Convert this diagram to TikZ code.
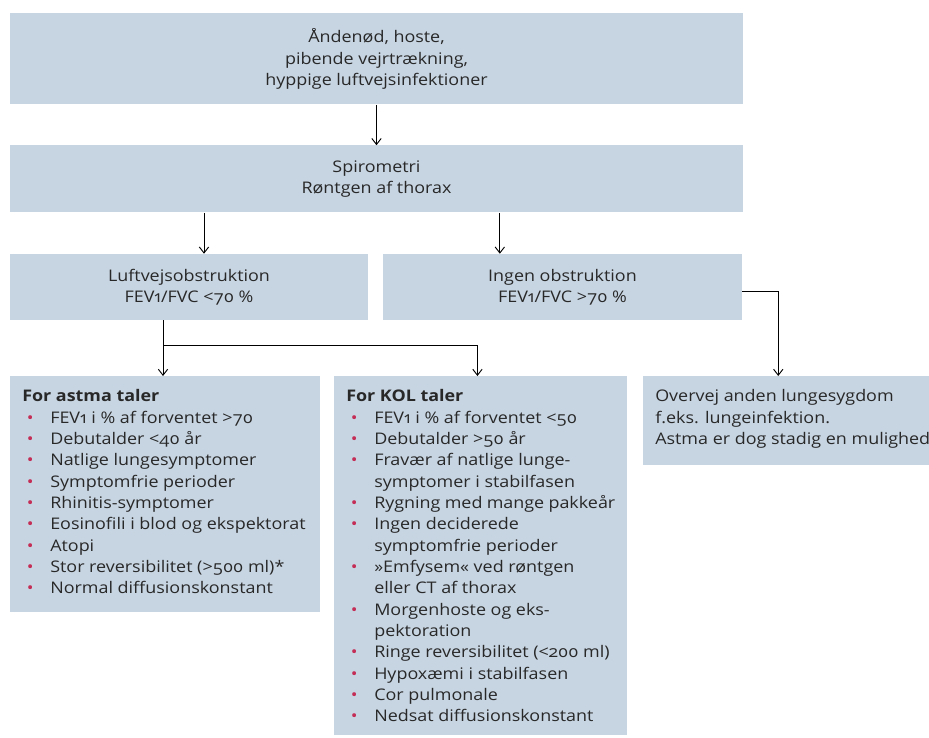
\documentclass[tikz,border=0pt]{standalone}
\usepackage{fontspec}
\setmainfont{Open Sans}[Numbers=OldStyle, FakeStretch=1.12]
\usetikzlibrary{arrows.meta,positioning}
\definecolor{boxblue}{RGB}{199,213,226}
\definecolor{bulletred}{RGB}{196,45,85}
\definecolor{txtgray}{RGB}{40,40,40}
\newcommand{\itm}{\hspace*{3.5pt}\makebox[17.5pt][l]{\textcolor{bulletred}{\textbullet}}}
\newcommand{\ind}{\hspace*{21pt}}
\begin{document}
\begin{tikzpicture}[
        x=0.75pt, y=-0.75pt,
        every node/.style={font=\fontsize{12}{16}\selectfont, text=txtgray},
        box/.style={fill=boxblue, inner sep=0pt, align=center},
        listbox/.style={fill=boxblue, anchor=north west, inner xsep=9pt, inner ysep=10pt},
        line/.style={draw=black, line width=0.7pt},
        arr/.style={line, -{Straight Barb[length=4.5pt,width=7pt]}},
    ]
    \useasboundingbox[fill=white] (0,0) rectangle (929,738);
    \node[box, minimum width=549.75pt, minimum height=68.25pt] (sym) at (376.5,59)
        {Åndenød, hoste,\\pibende vejrtrækning,\\hyppige luftvejsinfektioner};
    \node[box, minimum width=549.75pt, minimum height=50.25pt] (spiro) at (376.5,179)
        {Spirometri\\Røntgen af thorax};
    \node[box, minimum width=268.5pt, minimum height=49.5pt] (luft) at (189,287)
        {Luftvejsobstruktion\\FEV1/FVC <70 \%};
    \node[box, minimum width=269.25pt, minimum height=49.5pt] (ingen) at (562.5,287)
        {Ingen obstruktion\\FEV1/FVC >70 \%};
    \node[listbox] (astma) at (10,376) {\parbox[t][157pt][t]{214.5pt}{\raggedright
        \textbf{For astma taler}\\
        \itm FEV1 i \% af forventet >70\\
        \itm Debutalder <40 år\\
        \itm Natlige lungesymptomer\\
        \itm Symptomfrie perioder\\
        \itm Rhinitis-symptomer\\
        \itm Eosinofili i blod og ekspektorat\\
        \itm Atopi\\
        \itm Stor reversibilitet (>500 ml)*\\
        \itm Normal diffusionskonstant}};
    \node[listbox] (kol) at (334,376) {\parbox[t][249.25pt][t]{201.75pt}{\raggedright
        \textbf{For KOL taler}\\
        \itm FEV1 i \% af forventet <50\\
        \itm Debutalder >50 år\\
        \itm Fravær af natlige lunge-\\
        \ind symptomer i stabilfasen\\
        \itm Rygning med mange pakkeår\\
        \itm Ingen deciderede\\
        \ind symptomfrie perioder\\
        \itm »Emfysem« ved røntgen\\
        \ind eller CT af thorax\\
        \itm Morgenhoste og eks-\\
        \ind pektoration\\
        \itm Ringe reversibilitet (<200 ml)\\
        \itm Hypoxæmi i stabilfasen\\
        \itm Cor pulmonale\\
        \itm Nedsat diffusionskonstant}};
    \node[listbox] (over) at (643,376) {\parbox[t][46.75pt][t]{240pt}{\raggedright
        Overvej anden lungesygdom\\
        f.eks. lungeinfektion.\\
        Astma er dog stadig en mulighed}};
    % connectors
    \coordinate (split) at (163,345);
    \draw[arr] (sym.south) -- (spiro.north);
    \draw[arr] ([xshift=11.25pt]luft.north |- spiro.south) -- ([xshift=11.25pt]luft.north);
    \draw[arr] ([xshift=-47pt]ingen.north |- spiro.south) -- ([xshift=-47pt]ingen.north);
    \draw[line] (split |- luft.south) -- (split);
    \draw[arr] (split) -- (split |- astma.north);
    \draw[arr] (split) -| ([xshift=-2.5pt]kol.north);
    \draw[arr] ([yshift=-3pt]ingen.east) -| ([xshift=-27.75pt]over.north);
\end{tikzpicture}
\end{document}
